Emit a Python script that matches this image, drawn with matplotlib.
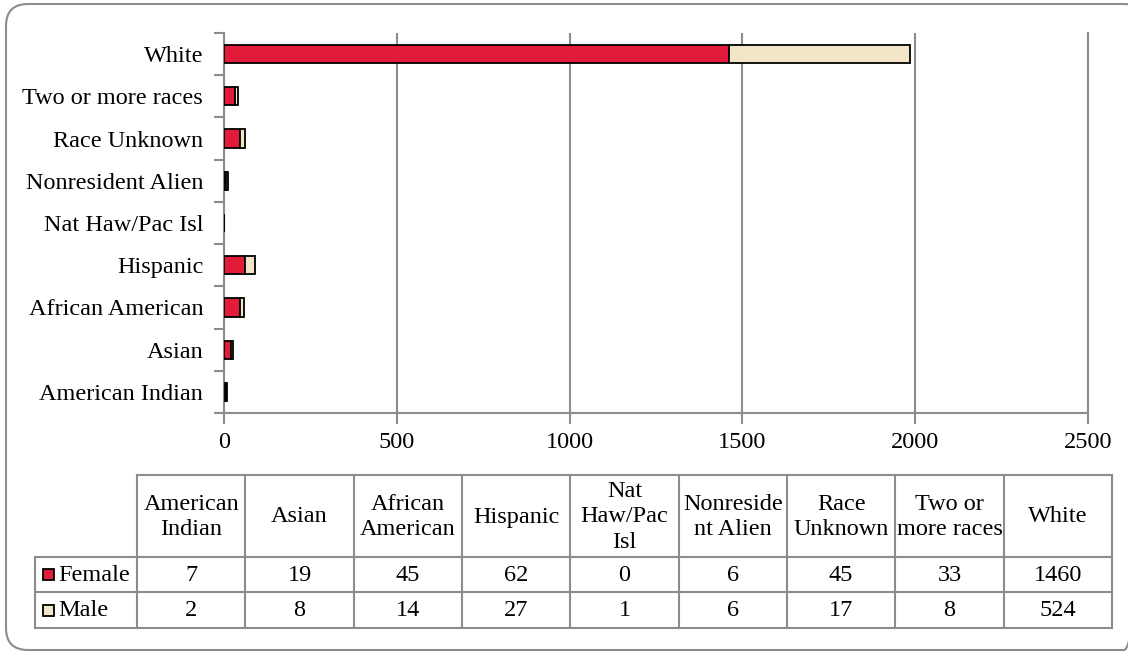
import numpy as np
import matplotlib
matplotlib.use('Agg')
import matplotlib.pyplot as plt
from matplotlib.patches import Rectangle, FancyBboxPatch

plt.rcParams['font.family'] = ['Liberation Serif', 'DejaVu Serif']

# data
categories = ['American Indian', 'Asian', 'African American', 'Hispanic',
              'Nat Haw/Pac Isl', 'Nonresident Alien', 'Race Unknown',
              'Two or more races', 'White']
header_labels = ['American\nIndian', 'Asian', 'African\nAmerican', 'Hispanic',
                 'Nat\nHaw/Pac\nIsl', 'Nonreside\nnt Alien', 'Race\nUnknown',
                 'Two or\nmore races', 'White']
female = [7, 19, 45, 62, 0, 6, 45, 33, 1460]
male = [2, 8, 14, 27, 1, 6, 17, 8, 524]
series_names = ['Female', 'Male']
x_ticks = [0, 500, 1000, 1500, 2000, 2500]

k_red = '#E31B3A'
k_beige = '#F3E5C8'
k_gray = '#8C8C8C'
k_font = 17.5

W, H = 1128, 653
fig = plt.figure(figsize=(W / 100, H / 100), dpi=100)


def px_axes(x0, y0, x1, y1):
  return fig.add_axes([x0 / W, 1 - y1 / H, (x1 - x0) / W, (y1 - y0) / H])


# bar chart
ax = px_axes(224, 33, 1088, 413)
pos = np.arange(len(categories))
ax.barh(pos, female, height=0.43, color=k_red, edgecolor='black', linewidth=1.3, zorder=3)
ax.barh(pos, male, left=female, height=0.43, color=k_beige, edgecolor='black', linewidth=1.3, zorder=3)
ax.set_xlim(0, 2500)
ax.set_ylim(-0.5, len(categories) - 0.5)
ax.set_xticks(x_ticks)
ax.set_xticklabels([str(v) for v in x_ticks], fontsize=k_font)
ax.set_yticks(pos)
ax.set_yticklabels(categories, fontsize=k_font)
ax.set_yticks(np.arange(-0.5, len(categories), 1), minor=True)
ax.tick_params(axis='y', which='major', length=0, pad=15)
ax.tick_params(axis='y', which='minor', length=7, width=1.5, color=k_gray)
ax.tick_params(axis='x', length=8, width=1.5, color=k_gray, pad=6)
ax.grid(axis='x', color=k_gray, linewidth=1.5, zorder=0)
ax.spines['top'].set_visible(False)
for side in ['left', 'bottom', 'right']:
  ax.spines[side].set_color(k_gray)
  ax.spines[side].set_linewidth(1.5)

# overlay in pixel coords: frame + data table
ov = fig.add_axes([0, 0, 1, 1])
ov.set_xlim(0, W)
ov.set_ylim(H, 0)
ov.axis('off')

ov.add_patch(FancyBboxPatch((6, 4), 1140, 646, boxstyle='round,pad=0,rounding_size=22',
                            edgecolor=k_gray, facecolor='none', linewidth=1.5))

col_x = [137 + i * (1112 - 137) / 9.0 for i in range(len(categories) + 1)]
row_y = [475, 557, 592, 628]
lbl_x0 = 35

ov.plot([col_x[0], col_x[-1]], [row_y[0], row_y[0]], color=k_gray, lw=1.5)
for y in row_y[1:]:
  ov.plot([lbl_x0, col_x[-1]], [y, y], color=k_gray, lw=1.5)
ov.plot([lbl_x0, lbl_x0], [row_y[1], row_y[-1]], color=k_gray, lw=1.5)
for x in col_x:
  ov.plot([x, x], [row_y[0], row_y[-1]], color=k_gray, lw=1.5)

for i, lab in enumerate(header_labels):
  cx = (col_x[i] + col_x[i + 1]) / 2
  ov.text(cx, (row_y[0] + row_y[1]) / 2 + 1, lab, ha='center', va='center',
          fontsize=k_font, linespacing=1.27)

for r, (name, vals, color) in enumerate(zip(series_names, [female, male], [k_red, k_beige])):
  cy = (row_y[r + 1] + row_y[r + 2]) / 2
  ov.add_patch(Rectangle((43, cy - 5.5), 11, 11, facecolor=color, edgecolor='black', linewidth=1.3))
  ov.text(58, cy + 1, name, ha='left', va='center', fontsize=k_font)
  for i, v in enumerate(vals):
    cx = (col_x[i] + col_x[i + 1]) / 2
    ov.text(cx, cy + 1, str(v), ha='center', va='center', fontsize=k_font)

fig.savefig('out.png', dpi=100)
